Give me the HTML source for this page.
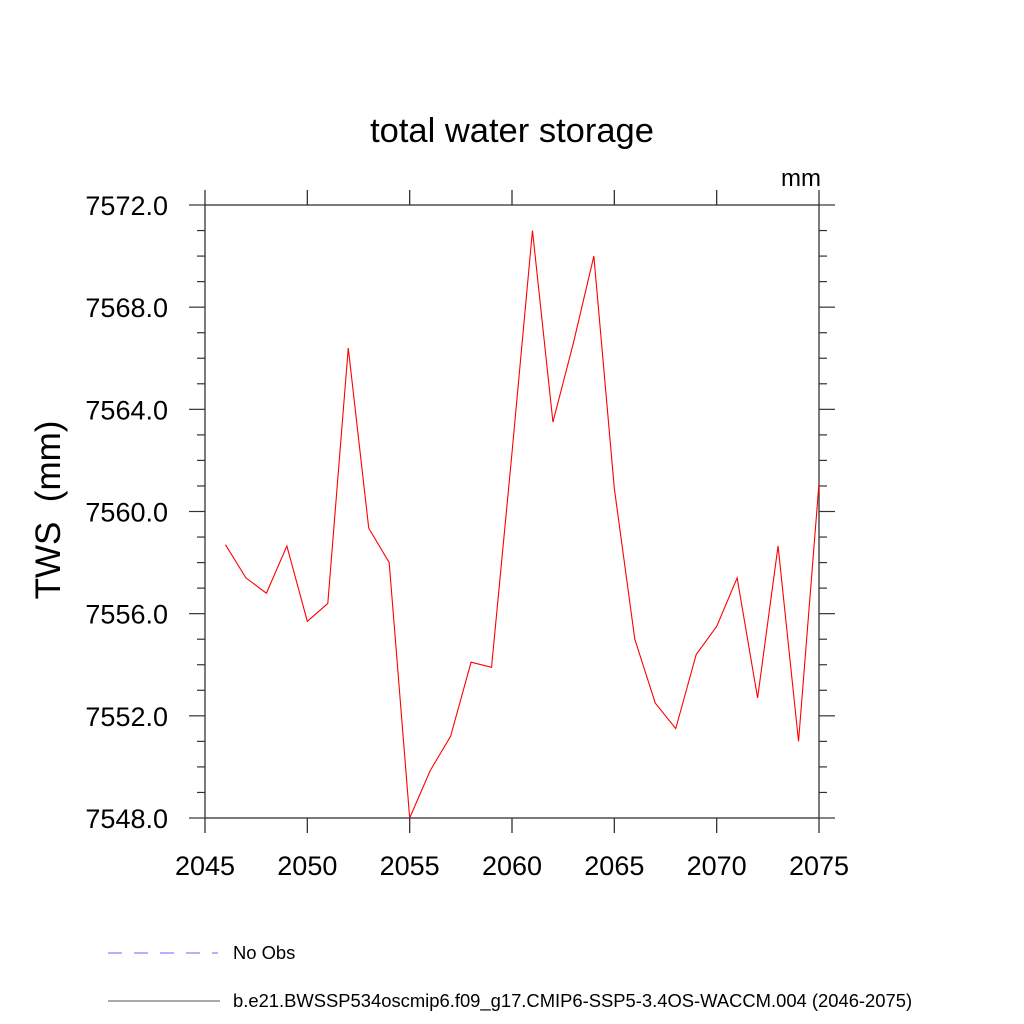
<!DOCTYPE html>
<html><head><meta charset="utf-8"><style>
body{margin:0;background:#fff}
svg{display:block;font-family:"Liberation Sans",sans-serif}
</style></head><body>
<svg id="chart" width="1024" height="1024" viewBox="0 0 1024 1024">
<text x="512" y="142" font-size="34.5" text-anchor="middle">total water storage</text>
<text x="821" y="186" font-size="24" text-anchor="end">mm</text>
<text transform="translate(60,510) rotate(-90)" font-size="35" text-anchor="middle" xml:space="preserve" style="white-space:pre">TWS  (mm)</text>
<g id="axes"></g>
<g id="series"></g>
<g>
<line x1="108" y1="953" x2="218" y2="953" stroke="#6666ff" stroke-width="1" stroke-dasharray="14,12"/>
<text x="233" y="959" font-size="18.4">No Obs</text>
<line x1="108" y1="1001" x2="220" y2="1001" stroke="#555" stroke-width="1"/>
<text x="233" y="1007" font-size="18.4">b.e21.BWSSP534oscmip6.f09_g17.CMIP6-SSP5-3.4OS-WACCM.004 (2046-2075)</text>
</g>
</svg>
<script>
const years=[2046,2047,2048,2049,2050,2051,2052,2053,2054,2055,2056,2057,2058,2059,2060,2061,2062,2063,2064,2065,2066,2067,2068,2069,2070,2071,2072,2073,2074,2075];
const tws=[7558.7,7557.4,7556.8,7558.65,7555.7,7556.4,7566.4,7559.35,7558.0,7548.0,7549.85,7551.2,7554.1,7553.9,7562.3,7571.0,7563.5,7566.6,7570.0,7560.9,7555.0,7552.5,7551.5,7554.4,7555.5,7557.4,7552.7,7558.65,7551.0,7561.1];
const xTicks=[2045,2050,2055,2060,2065,2070,2075];
const yTicks=[7548,7552,7556,7560,7564,7568,7572];
const yTickLabels=["7548.0","7552.0","7556.0","7560.0","7564.0","7568.0","7572.0"];
const X0=205,X1=819,Y0=818,Y1=205;
const xs=v=>X0+(v-2045)/30*(X1-X0);
const ys=v=>Y0-(v-7548)/24*(Y0-Y1);
const NS="http://www.w3.org/2000/svg";
const ax=document.getElementById('axes');
function mk(tag,at,parent){const e=document.createElementNS(NS,tag);for(const k in at)e.setAttribute(k,at[k]);parent.appendChild(e);return e;}
const frame=mk('rect',{x:X0,y:Y1,width:X1-X0,height:Y0-Y1,fill:'none',stroke:'#333','stroke-width':1.3},ax);


xTicks.forEach(t=>{
  const x=xs(t);
  const a=mk('line',{x1:x,y1:Y0,x2:x,y2:Y0+15,stroke:'#333','stroke-width':1.3},ax);
  
  
  const b=mk('line',{x1:x,y1:Y1,x2:x,y2:Y1-15,stroke:'#333','stroke-width':1.3},ax);
  
  
  const l=mk('text',{x:x,y:Y0+57,'font-size':27,'text-anchor':'middle'},ax);
  l.textContent=t;
  
  
});
for(let v=7548;v<=7572;v++){
  const y=ys(v);const major=(v-7548)%4===0;const len=major?16:8;
  const a=mk('line',{x1:X0-len,y1:y,x2:X0,y2:y,stroke:'#333','stroke-width':1.2},ax);
  
  
  const b=mk('line',{x1:X1,y1:y,x2:X1+len,y2:y,stroke:'#333','stroke-width':1.2},ax);
  
  
}
yTicks.forEach((t,i)=>{
  const l=mk('text',{x:168,y:ys(t)+10,'font-size':27,'text-anchor':'end'},ax);
  l.textContent=yTickLabels[i];
  
  
});
const pts=years.map((y,i)=>xs(y)+','+ys(tws[i])).join(' ');
const pl=mk('polyline',{points:pts,fill:'none',stroke:'#ff0000','stroke-width':1.1},document.getElementById('series'));


</script>
</body></html>
